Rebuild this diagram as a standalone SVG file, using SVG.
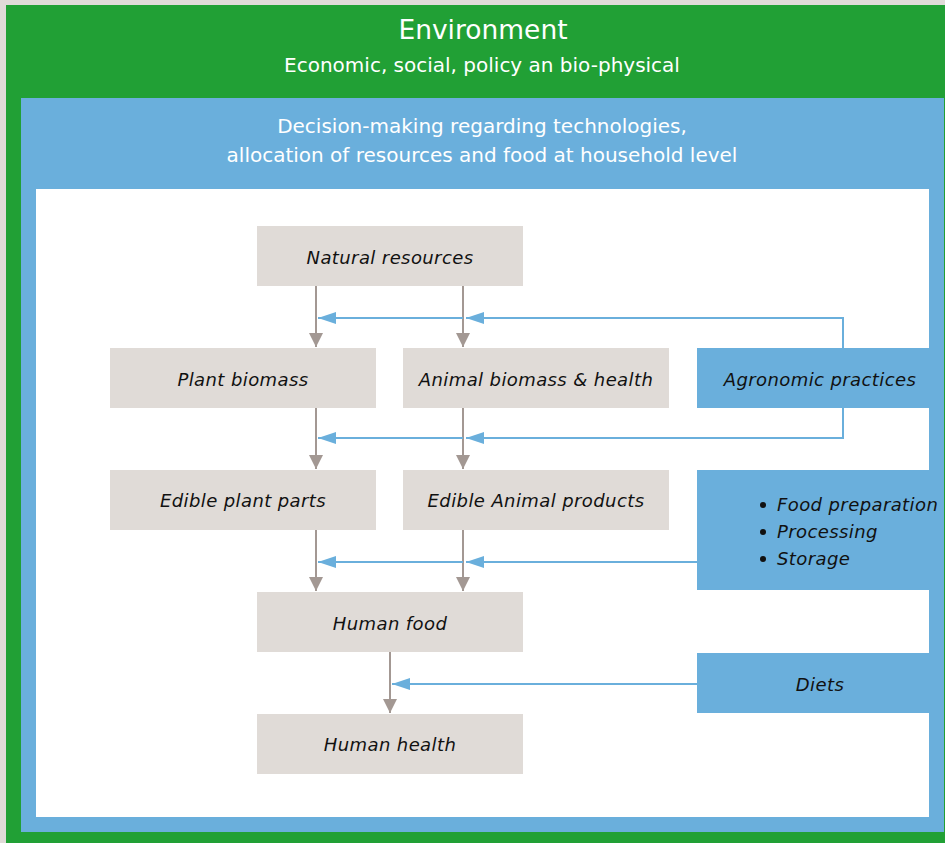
<svg xmlns="http://www.w3.org/2000/svg" width="945" height="843" viewBox="0 0 945 843">
  <style>
    .box { fill: #e0dbd7; }
    .bbox { fill: #6aafdc; }
    .lbl { font-family: "DejaVu Sans", Verdana, sans-serif; font-size: 18px; letter-spacing: 0.4px; font-style: italic; fill: #111; text-anchor: middle; }
    .lst { font-family: "DejaVu Sans", Verdana, sans-serif; font-size: 18px; letter-spacing: 0.4px; font-style: italic; fill: #111; }
    .hdr { font-family: "DejaVu Sans", Verdana, sans-serif; fill: #ffffff; text-anchor: middle; }
    .gline { stroke: #a39893; stroke-width: 2; fill: none; }
    .bline { stroke: #6aafdc; stroke-width: 2; fill: none; }
  </style>
  <defs>
    <marker id="gArrow" viewBox="0 0 14 18" refX="14" refY="9" markerWidth="14" markerHeight="18" markerUnits="userSpaceOnUse" orient="auto">
      <path d="M0,2 L14,9 L0,16 Z" fill="#a39893"/>
    </marker>
    <marker id="bArrow" viewBox="0 0 18 13" refX="18" refY="6.5" markerWidth="18" markerHeight="13" markerUnits="userSpaceOnUse" orient="auto">
      <path d="M0,0.5 L18,6.5 L0,12.5 Z" fill="#6aafdc"/>
    </marker>
  </defs>

  <!-- frames -->
  <rect x="0" y="0" width="945" height="843" fill="#e0dbd8"/>
  <rect x="6" y="5" width="939" height="838" fill="#21a035"/>
  <rect x="21" y="98" width="923" height="734" fill="#6aafdc"/>
  <rect x="36" y="189" width="893" height="628" fill="#ffffff"/>

  <text class="hdr" x="483" y="39" font-size="26.5">Environment</text>
  <text class="hdr" x="482" y="72" font-size="20">Economic, social, policy an bio-physical</text>
  <text class="hdr" x="482" y="133" font-size="20">Decision-making regarding technologies,</text>
  <text class="hdr" x="482" y="162" font-size="20">allocation of resources and food at household level</text>

  <!-- connectors -->
  <g id="connectors">
    <path class="gline" d="M316,286 V347" marker-end="url(#gArrow)"/>
    <path class="gline" d="M463,286 V347" marker-end="url(#gArrow)"/>
    <path class="gline" d="M316,408 V469" marker-end="url(#gArrow)"/>
    <path class="gline" d="M463,408 V469" marker-end="url(#gArrow)"/>
    <path class="gline" d="M316,530 V591" marker-end="url(#gArrow)"/>
    <path class="gline" d="M463,530 V591" marker-end="url(#gArrow)"/>
    <path class="gline" d="M390,652 V713" marker-end="url(#gArrow)"/>

    <path class="bline" d="M843,348 V318 H466" marker-end="url(#bArrow)"/>
    <path class="bline" d="M463,318 H318" marker-end="url(#bArrow)"/>
    <path class="bline" d="M843,408 V438 H466" marker-end="url(#bArrow)"/>
    <path class="bline" d="M463,438 H318" marker-end="url(#bArrow)"/>
    <path class="bline" d="M697,562 H466" marker-end="url(#bArrow)"/>
    <path class="bline" d="M463,562 H318" marker-end="url(#bArrow)"/>
    <path class="bline" d="M697,684 H392" marker-end="url(#bArrow)"/>
  </g>

  <!-- nodes -->
  <g id="natural-resources">
    <rect class="box" x="257" y="226" width="266" height="60"/>
    <text class="lbl" x="390" y="264">Natural resources</text>
  </g>
  <g id="plant-biomass">
    <rect class="box" x="110" y="348" width="266" height="60"/>
    <text class="lbl" x="243" y="386">Plant biomass</text>
  </g>
  <g id="animal-biomass">
    <rect class="box" x="403" y="348" width="266" height="60"/>
    <text class="lbl" x="536" y="386">Animal biomass &amp; health</text>
  </g>
  <g id="agronomic-practices">
    <rect class="bbox" x="697" y="348" width="232" height="60"/>
    <text class="lbl" x="820" y="386">Agronomic practices</text>
  </g>
  <g id="edible-plant-parts">
    <rect class="box" x="110" y="470" width="266" height="60"/>
    <text class="lbl" x="243" y="507">Edible plant parts</text>
  </g>
  <g id="edible-animal-products">
    <rect class="box" x="403" y="470" width="266" height="60"/>
    <text class="lbl" x="536" y="507">Edible Animal products</text>
  </g>
  <g id="food-handling">
    <rect class="bbox" x="697" y="470" width="232" height="120"/>
    <circle cx="763" cy="505" r="3" fill="#111"/>
    <circle cx="763" cy="532" r="3" fill="#111"/>
    <circle cx="763" cy="559" r="3" fill="#111"/>
    <text class="lst" x="777" y="511">Food preparation</text>
    <text class="lst" x="777" y="538">Processing</text>
    <text class="lst" x="777" y="565">Storage</text>
  </g>
  <g id="human-food">
    <rect class="box" x="257" y="592" width="266" height="60"/>
    <text class="lbl" x="390" y="630">Human food</text>
  </g>
  <g id="diets">
    <rect class="bbox" x="697" y="653" width="232" height="60"/>
    <text class="lbl" x="820" y="691">Diets</text>
  </g>
  <g id="human-health">
    <rect class="box" x="257" y="714" width="266" height="60"/>
    <text class="lbl" x="390" y="751">Human health</text>
  </g>
</svg>
